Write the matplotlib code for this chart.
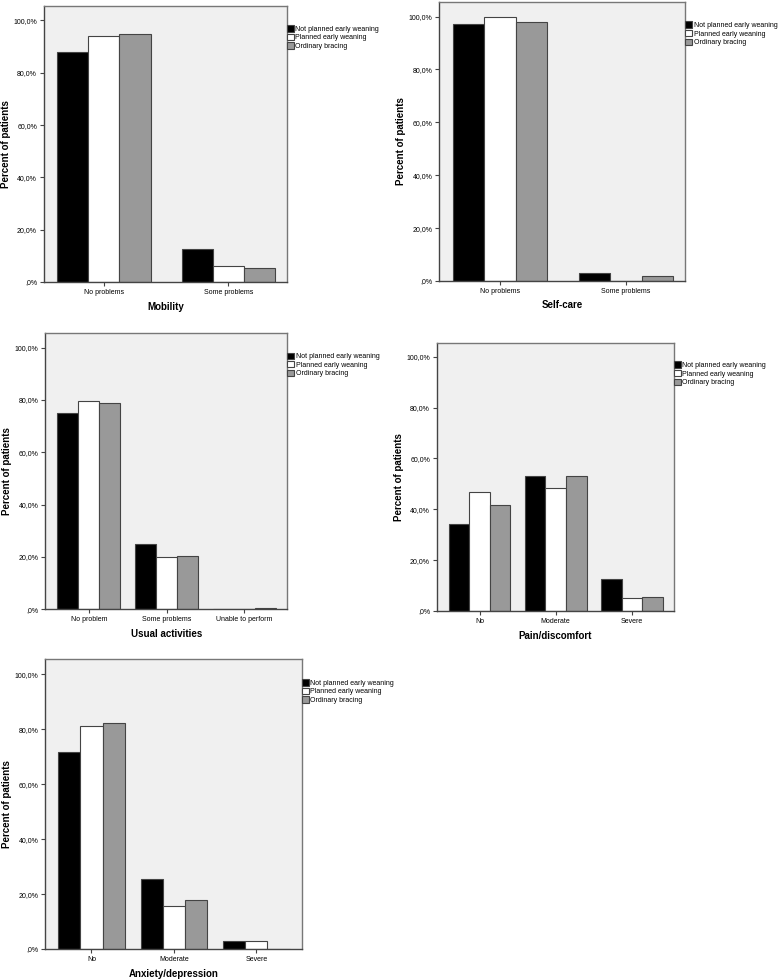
import matplotlib.pyplot as plt
import numpy as np
from matplotlib.ticker import FuncFormatter

plt.rcParams["font.family"] = ["Liberation Sans", "DejaVu Sans"]

SERIES = ["Not planned early weaning", "Planned early weaning", "Ordinary bracing"]
COLORS = ["#000000", "#ffffff", "#999999"]

# EQ-5D dimensions, percent of patients per group
mobility_cats = ["No problems", "Some problems"]
mobility_vals = [[87.8, 12.6], [93.9, 6.3], [94.9, 5.3]]

selfcare_cats = ["No problems", "Some problems"]
selfcare_vals = [[97.1, 2.9], [100.0, 0.0], [97.9, 2.0]]

usual_cats = ["No problem", "Some problems", "Unable to perform"]
usual_vals = [[75.0, 24.8, 0.0], [79.6, 20.1, 0.0], [79.0, 20.3, 0.4]]

pain_cats = ["No", "Moderate", "Severe"]
pain_vals = [[34.4, 53.1, 12.5], [46.8, 48.4, 5.0], [41.7, 52.9, 5.4]]

anxiety_cats = ["No", "Moderate", "Severe"]
anxiety_vals = [[71.7, 25.3, 3.0], [81.2, 15.7, 3.0], [82.3, 17.8, 0.0]]

PANELS = [
    ("Mobility", mobility_cats, mobility_vals, [0.0566, 0.7122, 0.3123, 0.2816]),
    ("Self-care", selfcare_cats, selfcare_vals, [0.5647, 0.7133, 0.3162, 0.2847]),
    ("Usual activities", usual_cats, usual_vals, [0.0582, 0.3783, 0.3110, 0.2816]),
    ("Pain/discomfort", pain_cats, pain_vals, [0.5617, 0.3765, 0.3042, 0.2738]),
    ("Anxiety/depression", anxiety_cats, anxiety_vals, [0.0582, 0.0316, 0.3296, 0.2959]),
]


def pct(v, pos):
    if v == 0:
        return ",0%"
    return f"{v:.1f}%".replace(".", ",")


def draw_panel(fig, title, cats, vals, rect):
    ax = fig.add_axes(rect)
    ax.set_facecolor("#f0f0f0")
    x = np.arange(len(cats))
    w = 0.25 if len(cats) == 2 else 0.27
    for i, (name, color) in enumerate(zip(SERIES, COLORS)):
        ax.bar(x + (i - 1) * w, vals[i], width=w, color=color,
               edgecolor="#444444", linewidth=0.8, label=name)
    ax.set_xlim(-0.48 if len(cats) == 2 else -0.56,
                len(cats) - 1 + (0.47 if len(cats) == 2 else 0.55))
    ax.set_ylim(0, 105.5)
    ax.set_yticks([0, 20, 40, 60, 80, 100])
    ax.yaxis.set_major_formatter(FuncFormatter(pct))
    ax.set_xticks(x)
    ax.set_xticklabels(cats)
    ax.tick_params(labelsize=5, length=3, width=0.8, color="#444444", pad=2)
    for sp in ax.spines.values():
        sp.set_color("#777777")
        sp.set_linewidth(1.0)
    ax.spines["bottom"].set_color("#444444")
    ax.spines["left"].set_color("#444444")
    ax.set_ylabel("Percent of patients", fontsize=7, fontweight="bold", labelpad=2)
    ax.set_xlabel(title, fontsize=7, fontweight="bold", labelpad=4)
    ax.legend(loc="upper left", bbox_to_anchor=(1.0, 0.93), frameon=False,
              fontsize=5, handlelength=1.0, handleheight=1.0, handletextpad=0.2,
              labelspacing=0.15, borderaxespad=0, borderpad=0)


fig = plt.figure(figsize=(7.78, 9.80), dpi=100)
for title, cats, vals, rect in PANELS:
    draw_panel(fig, title, cats, vals, rect)

fig.savefig("out.png", dpi=100, facecolor="white")
